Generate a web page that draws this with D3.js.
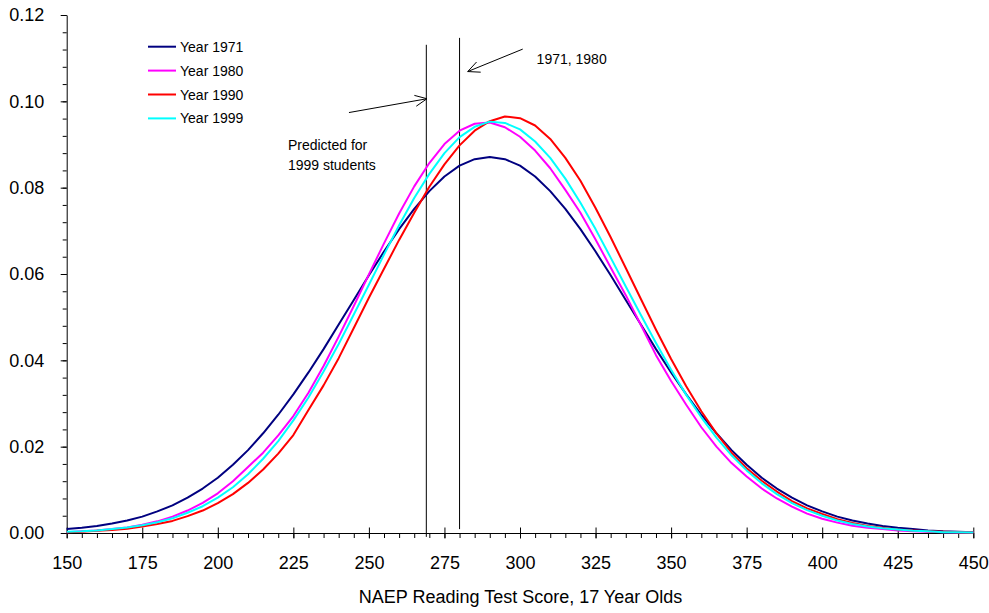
<!DOCTYPE html>
<html>
<head>
<meta charset="utf-8">
<script src="https://cdn.jsdelivr.net/npm/d3@7"></script>
<style>
  body { margin: 0; background: #fff; }
  svg { display: block; font-family: "Liberation Sans", Arial, sans-serif; }
</style>
</head>
<body>
<svg id="chart" width="989" height="613"></svg>
<script>
// Test scores (x) at which the distributions were plotted
const scores = [150,155,160,165,170,175,180,185,190,195,
                200,205,210,215,220,225,230,235,240,245,
                250,255,260,265,270,275,280,285,290,295,
                300,305,310,315,320,325,330,335,340,345,
                350,355,360,365,370,375,380,385,390,395,
                400,405,410,415,420,425,430,435,440,445,450];

const year1971 = [0.0009,0.0012,0.0016,0.0022,0.0029,0.0038,0.0050,0.0064,0.0082,0.0103,
                  0.0128,0.0158,0.0192,0.0231,0.0274,0.0321,0.0372,0.0426,0.0483,0.0540,
                  0.0597,0.0652,0.0704,0.0751,0.0792,0.0826,0.0851,0.0866,0.0871,0.0866,
                  0.0851,0.0826,0.0792,0.0751,0.0704,0.0652,0.0597,0.0540,0.0483,0.0426,
                  0.0372,0.0321,0.0274,0.0231,0.0192,0.0158,0.0128,0.0103,0.0082,0.0064,
                  0.0050,0.0038,0.0029,0.0022,0.0016,0.0012,0.0009,0.0006,0.0004,0.0003,0.0002];

const year1980 = [0.0002,0.0004,0.0006,0.0009,0.0013,0.0019,0.0027,0.0038,0.0052,0.0070,
                  0.0092,0.0120,0.0153,0.0186,0.0226,0.0271,0.0325,0.0387,0.0455,0.0526,
                  0.0599,0.0671,0.0740,0.0803,0.0857,0.0901,0.0932,0.0948,0.0951,0.0940,
                  0.0918,0.0886,0.0845,0.0795,0.0742,0.0680,0.0615,0.0551,0.0482,0.0412,
                  0.0352,0.0297,0.0245,0.0200,0.0162,0.0131,0.0103,0.0080,0.0061,0.0045,
                  0.0033,0.0024,0.0017,0.0012,0.0009,0.0006,0.0004,0.0003,0.0002,0.0001,0.0001];

const year1990 = [0.0002,0.0003,0.0005,0.0007,0.0010,0.0015,0.0021,0.0028,0.0039,0.0052,
                  0.0069,0.0090,0.0116,0.0147,0.0184,0.0227,0.0285,0.0342,0.0405,0.0475,
                  0.0545,0.0612,0.0679,0.0742,0.0802,0.0854,0.0898,0.0932,0.0954,0.0965,
                  0.0961,0.0944,0.0913,0.0869,0.0816,0.0753,0.0685,0.0614,0.0542,0.0471,
                  0.0403,0.0340,0.0282,0.0231,0.0186,0.0150,0.0121,0.0096,0.0074,0.0057,
                  0.0044,0.0032,0.0023,0.0016,0.0012,0.0008,0.0006,0.0004,0.0003,0.0002,0.0001];

const year1999 = [0.0003,0.0004,0.0006,0.0009,0.0013,0.0018,0.0025,0.0034,0.0047,0.0062,
                  0.0082,0.0106,0.0136,0.0172,0.0213,0.0261,0.0314,0.0374,0.0438,0.0506,
                  0.0575,0.0645,0.0713,0.0776,0.0832,0.0880,0.0917,0.0941,0.0953,0.0950,
                  0.0935,0.0907,0.0869,0.0821,0.0765,0.0704,0.0638,0.0571,0.0505,0.0440,
                  0.0378,0.0320,0.0268,0.0221,0.0180,0.0145,0.0115,0.0090,0.0069,0.0053,
                  0.0040,0.0029,0.0021,0.0015,0.0011,0.0008,0.0005,0.0004,0.0002,0.0002,0.0001];

const seriesLabels = ["Year 1971", "Year 1980", "Year 1990", "Year 1999"];
const seriesColors = ["#000080", "#ff00ff", "#ff0000", "#00ffff"];
const seriesValues = [year1971, year1980, year1990, year1999];

const xMajorTicks = [150,175,200,225,250,275,300,325,350,375,400,425,450];
const yMajorTicks = [0, 0.02, 0.04, 0.06, 0.08, 0.10, 0.12];

// Reference lines: predicted score for 1999 students, and the 1971/1980 score
const refLines = [
  {score: 269, top: 0.1131, bottom: -0.0009},
  {score: 280, top: 0.1147, bottom: 0.0009}
];

// Annotation arrows [from score, from value] -> [to score, to value]
const arrows = [
  {from: [243.4, 0.0974], to: [269.2, 0.1006]},
  {from: [300.9, 0.1121], to: [282.7, 0.1069]}
];

const notes = [
  {score: 305.5, value: 0.1087, lines: ["1971, 1980"]},
  {score: 223.2, value: 0.0888, lines: ["Predicted for", "1999 students"]}
];

const width = 989, height = 613;
const margin = {top: 15, right: 15.7, bottom: 80, left: 66.7};
const innerWidth = width - margin.left - margin.right;
const innerHeight = height - margin.top - margin.bottom;

const svg = d3.select("#chart");
const innerChart = svg.append("g")
    .attr("transform", `translate(${margin.left},${margin.top})`);

const xScale = d3.scaleLinear().domain([150, 450]).range([0, innerWidth]);
const yScale = d3.scaleLinear().domain([0, 0.12]).range([innerHeight, 0]);

//Minor ticks on x axis (every 5 points)
innerChart.append("g")
    .attr("class", "x-minor")
    .attr("transform", `translate(0,${innerHeight})`)
    .call(d3.axisBottom(xScale).tickValues(scores).tickSize(5).tickSizeOuter(0).tickFormat(""))
    .call(g => g.select(".domain").remove())
    .call(g => g.selectAll("text").remove());

//Major ticks on x axis, crossing the axis line
const xAxis = innerChart.append("g")
    .attr("class", "x-axis")
    .attr("transform", `translate(0,${innerHeight})`)
    .call(d3.axisBottom(xScale).tickValues(xMajorTicks).tickSize(5.5).tickSizeOuter(0).tickPadding(17.5));
xAxis.selectAll(".tick").append("line")
    .attr("stroke", "#000")
    .attr("y1", -5.5)
    .attr("y2", 0);

//Minor ticks on y axis (every 0.004)
const yMinor = d3.range(0, 31).map(i => i * 0.004);
innerChart.append("g")
    .attr("class", "y-minor")
    .call(d3.axisLeft(yScale).tickValues(yMinor).tickSize(4).tickSizeOuter(0).tickFormat(""))
    .call(g => g.select(".domain").remove())
    .call(g => g.selectAll("text").remove());

innerChart.append("g")
    .attr("class", "y-axis")
    .call(d3.axisLeft(yScale).tickValues(yMajorTicks).tickSize(6).tickSizeOuter(0)
      .tickPadding(16.5).tickFormat(d3.format(".2f")));

svg.selectAll(".x-axis text, .y-axis text")
    .attr("font-size", 18)
    .attr("font-family", "Liberation Sans, Arial, sans-serif")
    .attr("fill", "#000");
svg.selectAll(".domain, .tick line").attr("stroke", "#000");

//Axis title
svg.append("text")
    .attr("x", 520.5)
    .attr("y", 603)
    .attr("text-anchor", "middle")
    .attr("font-size", 18)
    .text("NAEP Reading Test Score, 17 Year Olds");

//Reference lines
innerChart.selectAll(".ref-line")
  .data(refLines)
  .join("line")
    .attr("class", "ref-line")
    .attr("x1", d => xScale(d.score))
    .attr("x2", d => xScale(d.score))
    .attr("y1", d => yScale(d.top))
    .attr("y2", d => yScale(d.bottom))
    .attr("stroke", "#000")
    .attr("stroke-width", 1);

//Distribution curves
const lineGenerator = d3.line()
    .x((d, i) => xScale(scores[i]))
    .y(d => yScale(d));

innerChart.selectAll(".curve")
  .data(seriesValues)
  .join("path")
    .attr("class", "curve")
    .attr("d", d => lineGenerator(d))
    .attr("fill", "none")
    .attr("stroke", (d, i) => seriesColors[i])
    .attr("stroke-width", 2)
    .attr("stroke-linejoin", "round");

//Arrows with open heads
const arrowG = innerChart.selectAll(".arrow")
  .data(arrows)
  .join("g")
    .attr("class", "arrow");

arrowG.append("path")
    .attr("fill", "none")
    .attr("stroke", "#000")
    .attr("stroke-width", 1)
    .attr("d", d => {
      const x0 = xScale(d.from[0]), y0 = yScale(d.from[1]);
      const x1 = xScale(d.to[0]), y1 = yScale(d.to[1]);
      const a = Math.atan2(y1 - y0, x1 - x0);
      const len = 13, spread = 25 * Math.PI / 180;
      const h1 = [x1 - len * Math.cos(a - spread), y1 - len * Math.sin(a - spread)];
      const h2 = [x1 - len * Math.cos(a + spread), y1 - len * Math.sin(a + spread)];
      return `M${x0},${y0}L${x1},${y1}M${h1[0]},${h1[1]}L${x1},${y1}L${h2[0]},${h2[1]}`;
    });

//Annotation texts
innerChart.selectAll(".note")
  .data(notes)
  .join("text")
    .attr("class", "note")
    .attr("x", d => xScale(d.score))
    .attr("y", d => yScale(d.value))
    .attr("font-size", 14)
    .attr("fill", "#000")
  .selectAll("tspan")
  .data(d => d.lines.map(l => ({l, x: xScale(d.score)})))
  .join("tspan")
    .attr("x", d => d.x)
    .attr("dy", (d, i) => i === 0 ? 0 : 20.7)
    .text(d => d.l);

//Legend
const legend = svg.append("g")
    .attr("transform", "translate(148,46.7)");

const legendItems = legend.selectAll(".legend-item")
  .data(seriesLabels)
  .join("g")
    .attr("class", "legend-item")
    .attr("transform", (d, i) => `translate(0,${i * 23.9})`);

legendItems.append("line")
    .attr("x1", 0)
    .attr("x2", 28)
    .attr("stroke", (d, i) => seriesColors[i])
    .attr("stroke-width", 2);

legendItems.append("text")
    .attr("x", 32)
    .attr("y", 5)
    .attr("font-size", 14)
    .attr("fill", "#000")
    .text(d => d);
</script>
</body>
</html>
